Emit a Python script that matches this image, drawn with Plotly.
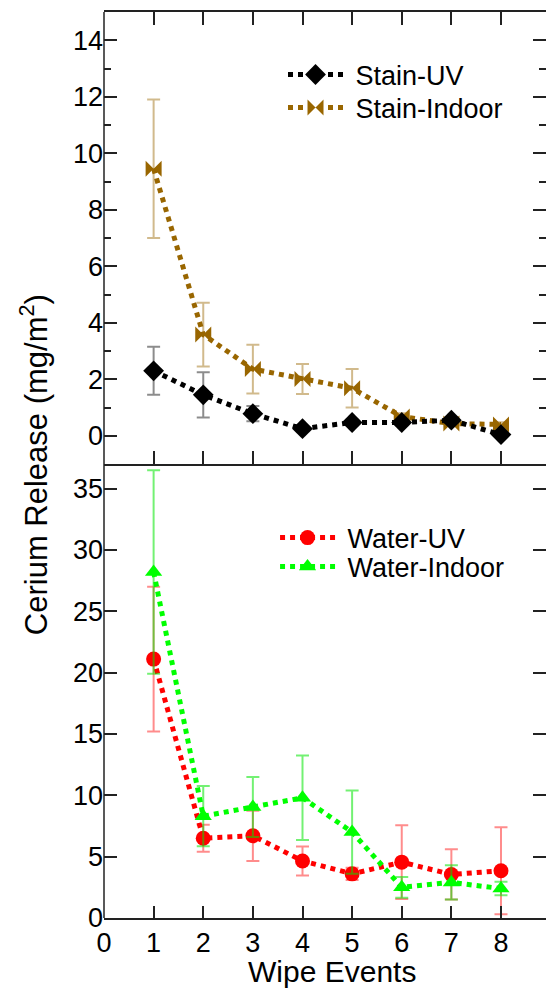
import plotly.graph_objects as go

events = [1, 2, 3, 4, 5, 6, 7, 8]

stain_uv = [2.30, 1.45, 0.78, 0.25, 0.47, 0.47, 0.55, 0.04]
stain_uv_err = [0.85, 0.80, 0.27, 0.08, 0.10, 0.10, 0.10, 0.06]
stain_indoor = [9.45, 3.58, 2.36, 2.01, 1.68, 0.68, 0.43, 0.40]
stain_indoor_err = [2.45, 1.13, 0.86, 0.53, 0.68, 0.12, 0.08, 0.08]

water_uv = [21.1, 6.5, 6.7, 4.65, 3.6, 4.55, 3.55, 3.85]
water_uv_err = [5.9, 1.1, 2.05, 1.18, 0.5, 3.0, 2.05, 3.55]
water_indoor = [28.2, 8.3, 9.05, 9.8, 7.0, 2.5, 2.9, 2.4]
water_indoor_err = [8.3, 2.45, 2.45, 3.45, 3.4, 0.85, 1.4, 0.55]

x_ticks = [0, 1, 2, 3, 4, 5, 6, 7, 8]
top_yticks = [0, 2, 4, 6, 8, 10, 12, 14]
top_yminor = [1, 3, 5, 7, 9, 11, 13]
bot_yticks = [0, 5, 10, 15, 20, 25, 30, 35]

FONT = "Liberation Sans, Arial, sans-serif"
AX = "#222222"
NB = "\u00a0"

fig = go.Figure()


def add(name, y, err, color, ecolor, symbol, size, xa, ya, legend):
    fig.add_trace(go.Scatter(
        x=events, y=y, name=NB + name, mode="lines+markers",
        line=dict(color=color, width=5, dash="dot"),
        marker=dict(symbol=symbol, size=size, color=color),
        error_y=dict(type="data", array=err, color=ecolor, thickness=2, width=6.5),
        xaxis=xa, yaxis=ya, legend=legend, showlegend=True,
    ))


add("Stain-Indoor", stain_indoor, stain_indoor_err, "#996600", "rgba(153,102,0,0.45)",
    "bowtie", 16, "x", "y", "legend2")
add("Stain-UV", stain_uv, stain_uv_err, "#000000", "rgba(0,0,0,0.45)",
    "diamond", 16, "x", "y", "legend")
add("Water-UV", water_uv, water_uv_err, "#FF0000", "rgba(255,0,0,0.45)",
    "circle", 15, "x2", "y2", "legend3")
add("Water-Indoor", water_indoor, water_indoor_err, "#00FF00", "rgba(0,230,0,0.55)",
    "triangle-up", 15, "x2", "y2", "legend4")

tickfont = dict(family=FONT, size=27, color="black")
XR = [0, 8.907]
SPLIT = 0.5011


def leg(x, y):
    return dict(x=x, y=y, xanchor="left", yanchor="middle", bgcolor="rgba(0,0,0,0)",
                font=dict(family=FONT, size=27, color="black"), itemwidth=55,
                visible=True)


fig.update_layout(
    width=546, height=988,
    margin=dict(l=104, r=0, t=12, b=70),
    paper_bgcolor="white", plot_bgcolor="white",
    font=dict(family=FONT, color="black"),
    showlegend=True,
    xaxis=dict(domain=[0, 1], anchor="y", range=XR, showline=True, linecolor=AX,
               linewidth=1.5, mirror="ticks", ticks="inside", ticklen=13, tickwidth=1.5,
               tickcolor=AX, tickvals=x_ticks[1:], showticklabels=False,
               showgrid=False, zeroline=False),
    yaxis=dict(domain=[SPLIT, 1], anchor="x", range=[-1, 15], showline=False,
               mirror="ticks", ticks="inside", ticklen=13, tickwidth=1.5, tickcolor=AX,
               tickvals=top_yticks, tickfont=tickfont, showgrid=False, zeroline=False,
               minor=dict(tickvals=top_yminor, ticks="inside", ticklen=7,
                          tickwidth=1.5, tickcolor=AX, showgrid=False)),
    xaxis2=dict(domain=[0, 1], anchor="y2", range=XR, showline=True, linecolor=AX,
                linewidth=1.5, mirror=False, ticks="inside", ticklen=12, tickwidth=1.5,
                tickcolor=AX, tickvals=x_ticks, tickfont=tickfont,
                showgrid=False, zeroline=False),
    yaxis2=dict(domain=[0, SPLIT], anchor="x2", range=[0, 37], showline=False,
                mirror="ticks", ticks="inside", ticklen=13, tickwidth=1.5, tickcolor=AX,
                tickvals=bot_yticks, tickfont=tickfont, showgrid=False, zeroline=False),
    legend=leg(0.405, 0.9305),
    legend2=leg(0.405, 0.894),
    legend3=leg(0.387, 0.4194),
    legend4=leg(0.387, 0.3874),
    shapes=[dict(type="line", xref="paper", yref="paper", x0=0, x1=0, y0=0, y1=1,
                 line=dict(color=AX, width=1.5))],
    annotations=[
        dict(text="Cerium Release (mg/m<sup>2</sup>)", textangle=-90, xref="paper",
             yref="paper", x=-0.158, y=0.5, xanchor="center", yanchor="middle",
             showarrow=False, font=dict(family=FONT, size=31, color="black")),
        dict(text="Wipe Events", xref="paper", yref="paper", x=0.516, y=-0.0585,
             xanchor="center", yanchor="middle", showarrow=False,
             font=dict(family=FONT, size=30, color="black")),
    ],
)

fig.write_html("out.html")
